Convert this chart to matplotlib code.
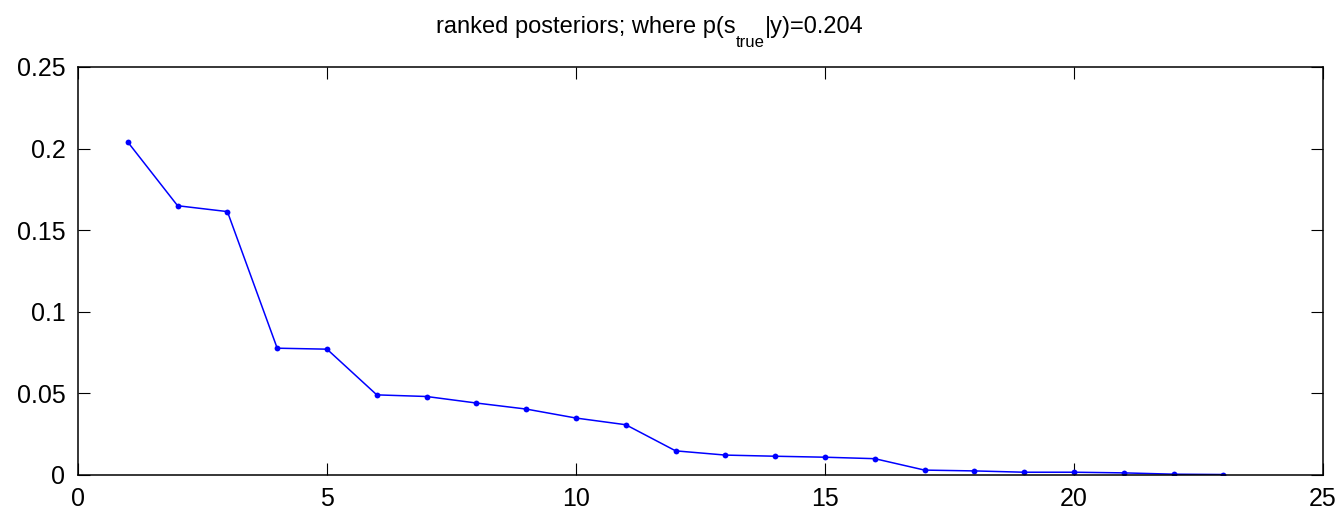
import matplotlib
matplotlib.use("Agg")
import matplotlib.pyplot as plt

plt.rcParams['font.family'] = ['Liberation Sans', 'DejaVu Sans']

rank = list(range(1, 24))
posterior = [0.204, 0.165, 0.1614, 0.0777, 0.0771, 0.0491, 0.0481, 0.0441,
             0.0404, 0.0349, 0.0308, 0.0148, 0.0122, 0.0115, 0.0109, 0.0100,
             0.0030, 0.0025, 0.0017, 0.0017, 0.0013, 0.0005, 0.0003]
xticks = [0, 5, 10, 15, 20, 25]
yticks = [0, 0.05, 0.1, 0.15, 0.2, 0.25]
ytick_labels = ['0', '0.05', '0.1', '0.15', '0.2', '0.25']
title_parts = ['ranked posteriors; where p(s', 'true', '|y)=0.204']

W, H = 1342, 513
fig = plt.figure(figsize=(W / 100, H / 100), dpi=100)
ax = fig.add_axes([78 / W, 1 - 475 / H, (1323 - 78) / W, (475 - 67) / H])

ax.plot(rank, posterior, color=(0, 0, 1), lw=1.1, marker='o', ms=4.2,
        markeredgewidth=0)

ax.set_xlim(0, 25)
ax.set_ylim(0, 0.25)
ax.set_xticks(xticks)
ax.set_xticklabels([str(t) for t in xticks])
ax.set_yticks(yticks)
ax.set_yticklabels(ytick_labels)
ax.tick_params(direction='in', length=8.5, width=0.8, labelsize=18,
               top=True, right=True, colors='black')
ax.tick_params(axis='x', pad=9)
ax.tick_params(axis='y', pad=9)
for s in ax.spines.values():
    s.set_linewidth(1.1)

# Title with a lowered subscript, laid out piece by piece
renderer = fig.canvas.get_renderer()
sizes = [17, 12, 17]
drops = [0, 14, 0]
pieces = []
for txt, fs, dy in zip(title_parts, sizes, drops):
    t = fig.text(0, 1 - (33 + dy) / H, txt, fontsize=fs, ha='left', va='baseline')
    pieces.append(t)
widths = [p.get_window_extent(renderer).width for p in pieces]
x = 650 - sum(widths) / 2
for p, w in zip(pieces, widths):
    p.set_x(x / W)
    x += w

fig.savefig('out.png', dpi=100)
